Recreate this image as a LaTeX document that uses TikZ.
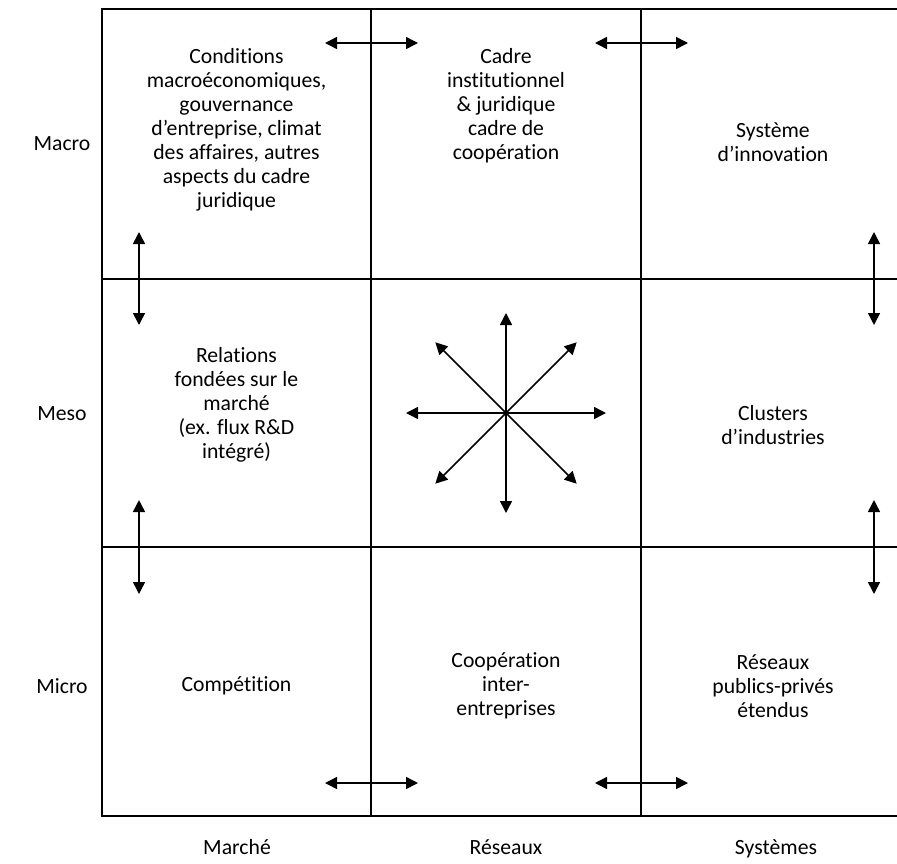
\documentclass[tikz,border=0pt]{standalone}
\usepackage{fontspec}
\setmainfont{Carlito}[RawFeature=-liga]
\usetikzlibrary{arrows.meta,calc}
\begin{document}
\begin{tikzpicture}[x=1pt,y=-1pt,
  grid/.style={line width=2pt,black},
  dbl/.style={line width=1.5pt,{Triangle[length=12pt,width=12pt]}-{Triangle[length=12pt,width=12pt]}},
  one/.style={line width=1.5pt,-{Triangle[length=12pt,width=12pt]}},
  cell/.style={align=center,font=\fontsize{21.7pt}{24pt}\selectfont,inner sep=0pt},
  lab/.style={font=\fontsize{21.7pt}{24pt}\selectfont,inner sep=0pt,anchor=base}]
\useasboundingbox (0,0) rectangle (897,863);
% grid
\draw[grid] (897,9) -- (102,9) -- (102,816) -- (897,816);
\draw[grid] (371,9) -- (371,816);
\draw[grid] (641,9) -- (641,816);
\draw[grid] (102,279) -- (897,279);
\draw[grid] (102,547) -- (897,547);
% cell texts
\node[cell] (c11) at (236.5,130) {Conditions\\macroéconomiques,\\gouvernance\\d’entreprise, climat\\des affaires, autres\\aspects du cadre\\juridique};
\node[cell] (c12) at (506,106) {Cadre\\institutionnel\\\& juridique\\cadre de\\coopération};
\node[cell] (c13) at (773,142) {Système\\d’innovation};
\node[cell] (c21) at (236.5,405) {Relations\\fondées sur le\\marché\\(ex. flux R\&D\\intégré)};
\node[cell] (c23) at (773,425) {Clusters\\d’industries};
\node[cell] (c31) at (236.5,686) {Compétition};
\node[cell] (c32) at (506,686) {Coopération\\inter-\\entreprises};
\node[cell] (c33) at (773,686) {Réseaux\\publics-privés\\étendus};
% axis labels
\node[lab] (macro) at (62,150) {Macro};
\node[lab] (meso) at (62,420) {Meso};
\node[lab] (micro) at (62,693) {Micro};
\node[lab] (marche) at (237,854) {Marché};
\node[lab] (reseaux) at (506,854) {Réseaux};
\node[lab] (systemes) at (776,854) {Systèmes};
% horizontal double arrows
\coordinate (ta1) at (325,43); \coordinate (tb1) at (418,43);
\coordinate (ta2) at (595,43); \coordinate (tb2) at (688,43);
\coordinate (ba1) at (325,783); \coordinate (bb1) at (418,783);
\coordinate (ba2) at (595,783); \coordinate (bb2) at (688,783);
\draw[dbl] (ta1) -- (tb1);
\draw[dbl] (ta2) -- (tb2);
\draw[dbl] (ba1) -- (bb1);
\draw[dbl] (ba2) -- (bb2);
% vertical double arrows
\coordinate (la1) at (139,232); \coordinate (lb1) at (139,325);
\coordinate (la2) at (139,500); \coordinate (lb2) at (139,594);
\coordinate (ra1) at (874,232); \coordinate (rb1) at (874,325);
\coordinate (ra2) at (874,500); \coordinate (rb2) at (874,594);
\draw[dbl] (la1) -- (lb1);
\draw[dbl] (la2) -- (lb2);
\draw[dbl] (ra1) -- (rb1);
\draw[dbl] (ra2) -- (rb2);
% star
\coordinate (ctr) at (506,413);
\foreach \a in {0,45,...,315} {
  \coordinate (s\a) at ($(ctr)+(\a:100)$);
  \draw[one] (ctr) -- (s\a);
}
\end{tikzpicture}
\end{document}
